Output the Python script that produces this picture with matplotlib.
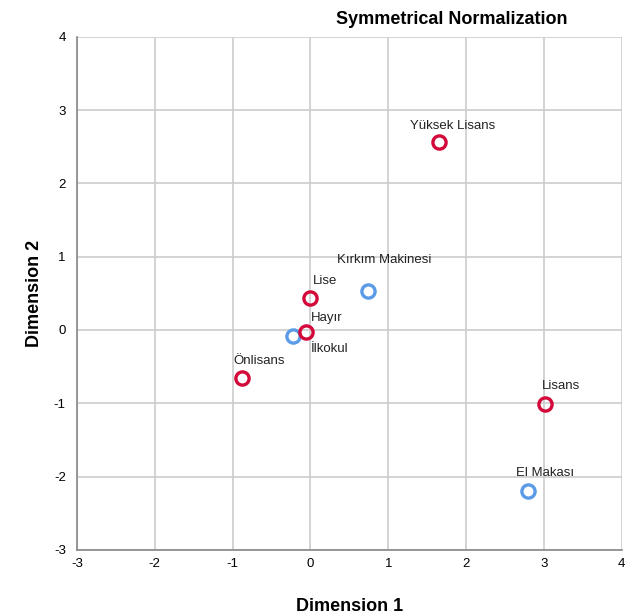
import matplotlib.pyplot as plt

plt.rcParams['axes.unicode_minus'] = False

# --- data ---
red_labels = ["Yüksek Lisans", "Lise", "İlkokul", "Önlisans", "Lisans"]
red_x = [1.65, -0.01, -0.06, -0.88, 3.01]
red_y = [2.56, 0.44, -0.03, -0.65, -1.01]

blue_labels = ["Kırkım Makinesi", "Hayır", "El Makası"]
blue_x = [0.74, -0.22, 2.79]
blue_y = [0.53, -0.08, -2.20]

ticks = [-3, -2, -1, 0, 1, 2, 3, 4]

# label offsets in pixels (left edge, vertical centre)
red_offsets = [(-29, 16), (3, 17), (5, -17), (-9, 17), (-3, 18)]
blue_offsets = [(-31, 31), (18, 18), (-12, 18)]

red_col = "#D3093A"
blue_col = "#5B9BE8"

fig = plt.figure(figsize=(6.41, 6.15), dpi=100)
ax = fig.add_axes([0.120, 0.106, 0.850, 0.834])

ax.plot(blue_x, blue_y, 'o', ms=9.5, mfc='none', mec=blue_col, mew=2.4, zorder=3)
ax.plot(red_x, red_y, 'o', ms=9.5, mfc='none', mec=red_col, mew=2.4, zorder=4)

for lab, x, y, off in zip(red_labels + blue_labels, red_x + blue_x,
                          red_y + blue_y, red_offsets + blue_offsets):
    ax.annotate(lab, (x, y), xytext=off, textcoords='offset pixels',
                ha='left', va='center', fontsize=9.5, color='#222222',
                family='Liberation Sans')

ax.set_xlim(-3, 4)
ax.set_ylim(-3, 4)
ax.set_xticks(ticks)
ax.set_yticks(ticks)
ax.tick_params(axis='y', length=0, labelsize=9.5, pad=8)
ax.tick_params(axis='x', length=0, labelsize=9.5, pad=6)
for t in ax.get_xticklabels() + ax.get_yticklabels():
    t.set_family('Liberation Sans')
ax.grid(True, color='#CCCCCC', linewidth=1.2)
ax.set_axisbelow(True)
for s in ['top', 'right']:
    ax.spines[s].set_visible(False)
for s in ['left', 'bottom']:
    ax.spines[s].set_color('#888888')
    ax.spines[s].set_linewidth(1.2)

ax.set_xlabel("Dimension 1", fontsize=13, fontweight='bold',
              family='Liberation Sans', labelpad=20)
ax.set_ylabel("Dimension 2", fontsize=13, fontweight='bold',
              family='Liberation Sans', labelpad=8)
fig.text(0.705, 0.968, "Symmetrical Normalization", ha='center', va='center',
         fontsize=13, fontweight='bold', family='Liberation Sans')

plt.savefig("out.png", dpi=100)
